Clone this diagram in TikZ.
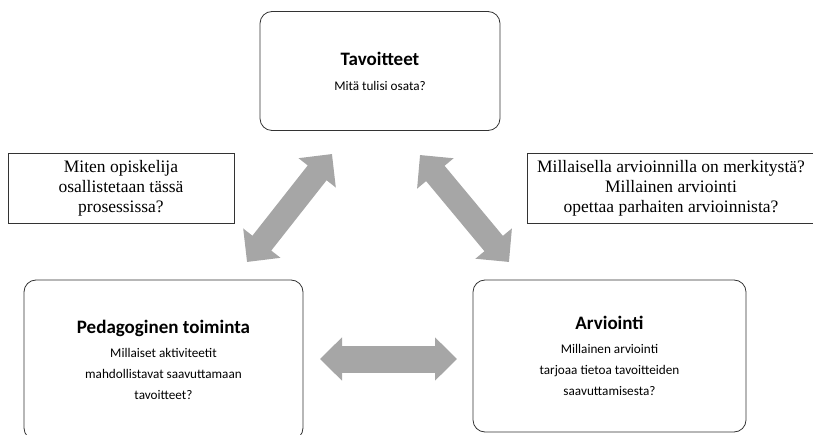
\documentclass[tikz,border=0pt]{standalone}
\usepackage{fontspec}
\setmainfont{Liberation Serif}
\newfontfamily\calfont{Carlito}
\usetikzlibrary{arrows.meta}
\definecolor{arrowgray}{HTML}{A6A6A6}
\newcommand{\boxtitle}[1]{{\fontsize{19}{22}\selectfont\bfseries #1}}
\tikzstyle{box} = [draw=black!80, line width=0.8pt, rounded corners=12pt, align=center, inner sep=0, font=\calfont\fontsize{13.2}{21}\selectfont]
\tikzstyle{question} = [draw=black!80, line width=0.8pt, align=center, inner sep=0, font=\fontsize{17.5}{20}\selectfont]
\tikzstyle{fat} = [line width=24pt, draw=arrowgray, {Triangle[length=24pt,width=46pt]}-{Triangle[length=24pt,width=46pt]}]

\begin{document}
\begin{tikzpicture}[x=1pt, y=-1pt]
\clip (0,0) rectangle (813,435);
\node [box, minimum width=240pt, minimum height=119pt] (tav) at (380,71) {\boxtitle{Tavoitteet}\\[4pt] Mitä tulisi osata?};
\node [box, minimum width=279pt, minimum height=160pt] (ped) at (163.5,360) {\boxtitle{Pedagoginen toiminta}\\[3pt] Millaiset aktiviteetit\\ mahdollistavat saavuttamaan\\ tavoitteet?};
\node [box, minimum width=273pt, minimum height=152pt] (arv) at (609.5,356) {\boxtitle{Arviointi}\\[3pt] Millainen arviointi\\ tarjoaa tietoa tavoitteiden\\ saavuttamisesta?};
\node [question, minimum width=226pt, minimum height=70pt] (q1) at (121,188) {Miten opiskelija\\ osallistetaan tässä\\ prosessissa?};
\node [question, minimum width=288pt, minimum height=70pt] (q2) at (671,188) {Millaisella arvioinnilla on merkitystä?\\ Millainen arviointi\\ opettaa parhaiten arvioinnista?};
% arrow ends
\coordinate (tavL) at (332,154);
\coordinate (tavR) at (420,155);
\coordinate (pedT) at (247,262);
\coordinate (pedR) at (320,359);
\coordinate (arvT) at (509,262);
\coordinate (arvL) at (457,359);
\draw [fat] (pedT) to (tavL);
\draw [fat] (tavR) to (arvT);
\draw [fat, line width=27pt, {Triangle[length=22pt,width=42pt]}-{Triangle[length=22pt,width=42pt]}] (pedR) to (arvL);
\end{tikzpicture}
\end{document}
